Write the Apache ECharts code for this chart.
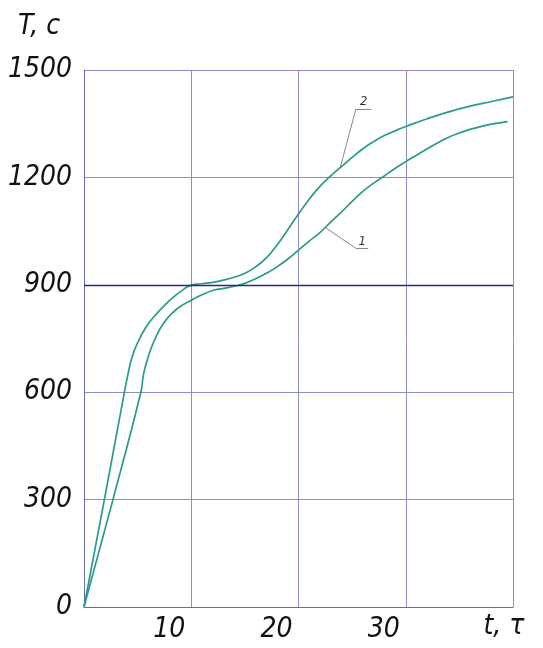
<!DOCTYPE html>
<html><head><meta charset="utf-8">
<script src="https://cdn.jsdelivr.net/npm/echarts@6/dist/echarts.min.js"></script>
<style>html,body{margin:0;padding:0;background:#fff}#c{width:543px;height:648px}</style>
</head><body><div id="c"></div>
<script>
// Curve 2 (upper) and curve 1 (lower): [t, T]
const curve2 = [[0,0],[2,316],[3.8,605],[4.1,650],[4.5,700],[5,738],[5.8,783],[6.5,810],[7.4,839],[8.2,862],[9,881],[10,899],[11,903],[12,907],[13,913],[14,921],[15,932],[16,950],[17,975],[18,1011],[19,1054],[20,1098],[21,1139],[22,1175],[23,1204],[24,1230],[25,1256],[26,1280],[27,1300],[28,1317],[29,1330],[30,1342],[32,1364],[34,1383],[36,1399],[38,1412],[40,1425]];
const curve1 = [[0,0],[2.7,300],[5.3,600],[5.55,650],[5.9,690],[6.2,718],[6.8,760],[7.4,792],[8.2,820],[9,840],[10,857],[11,872],[12,884],[13,890],[14,896],[15,904],[16,917],[17,932],[18,950],[19,972],[20,997],[21,1022],[22,1046],[23,1075],[24,1103],[25,1133],[26,1161],[27,1184],[28,1204],[29,1225],[30,1244],[31,1262],[32,1280],[33,1297],[34,1312],[35,1324],[36,1334],[37,1342],[38,1349],[39.5,1356]];
const xTicks = [0,10,20,30,40];
const xTickLabels = ['', '10', '20', '30', ''];
const yTicks = [0,300,600,900,1200,1500];
const yTickLabels = ['0','300','600','900','1200','1500'];
const xName = 't, τ';
const yName = 'T, c';
const highlightY = 900;
const leader2 = [[23.9,1228],[25.35,1391],[26.8,1391]];
const leader1 = [[22.5,1060],[25.4,1001],[26.5,1001]];
const label2 = '2', label1 = '1';

const FONT = "'DejaVu Sans Condensed','Liberation Sans Narrow',sans-serif";
const teal = '#2a9a8e';
const leaderStyle = {color:'#555', width:0.7, type:'solid'};
function leader(pts){
  return [[{coord:pts[0]},{coord:pts[1]}],[{coord:pts[1]},{coord:pts[2]}]];
}
function labelPoint(pts, txt){
  return {data:[{coord:[(pts[1][0]+pts[2][0])/2, pts[1][1]]}], symbol:'circle', symbolSize:0,
    label:{show:true, formatter:txt, position:'top', distance:1, fontFamily:FONT, fontStyle:'italic', fontSize:13, color:'#333'}, silent:true};
}
const chart = echarts.init(document.getElementById('c'), null, {renderer:'canvas'});
chart.setOption({
  animation:false,
  grid:{left:84, right:30, top:70, bottom:41, containLabel:false, outerBoundsMode:'none'},
  xAxis:{type:'value', min:0, max:40, interval:10,
    name:xName, nameLocation:'end', nameGap:-9,
    nameTextStyle:{fontFamily:FONT, fontStyle:'italic', fontSize:28, color:'#111', align:'center', verticalAlign:'top', padding:[6,0,0,0]},
    axisLine:{show:true, lineStyle:{color:'#6a6ab0', width:1}},
    axisTick:{show:false},
    axisLabel:{fontFamily:FONT, fontStyle:'italic', fontSize:28, color:'#111', align:'right', margin:9, padding:[0,6,0,0],
      formatter:v=>{const i=xTicks.indexOf(v);return i>=0?xTickLabels[i]:'';}},
    splitLine:{show:true, lineStyle:{color:'#8c8cc8', width:1}}
  },
  yAxis:{type:'value', min:0, max:1500, interval:300,
    name:yName, nameLocation:'end', nameGap:43,
    nameTextStyle:{fontFamily:FONT, fontStyle:'italic', fontSize:28, color:'#111', align:'right', verticalAlign:'middle', padding:[0,24,0,0]},
    axisLine:{show:true, lineStyle:{color:'#6a6ab0', width:1}},
    axisTick:{show:false},
    axisLabel:{fontFamily:FONT, fontStyle:'italic', fontSize:28, color:'#111', margin:12,
      formatter:v=>{const i=yTicks.indexOf(v);return i>=0?yTickLabels[i]:'';}},
    splitLine:{show:true, lineStyle:{color:'#8c8cc8', width:1}}
  },
  series:[
    {type:'line', data:curve2, smooth:0.5, showSymbol:false, lineStyle:{color:teal, width:1.7},
      markLine:{silent:true, symbol:'none', label:{show:false}, lineStyle:leaderStyle, data:leader(leader2)},
      markPoint:labelPoint(leader2, label2), z:3},
    {type:'line', data:curve1, smooth:0.5, showSymbol:false, lineStyle:{color:teal, width:1.7},
      markLine:{silent:true, symbol:'none', label:{show:false}, lineStyle:leaderStyle, data:leader(leader1)},
      markPoint:labelPoint(leader1, label1), z:3},
    {type:'line', data:[], markLine:{silent:true, symbol:'none', label:{show:false}, lineStyle:{color:'#2a2a78', width:1.3, type:'solid'}, data:[{yAxis:highlightY}]}, z:2}
  ]
});
</script></body></html>
